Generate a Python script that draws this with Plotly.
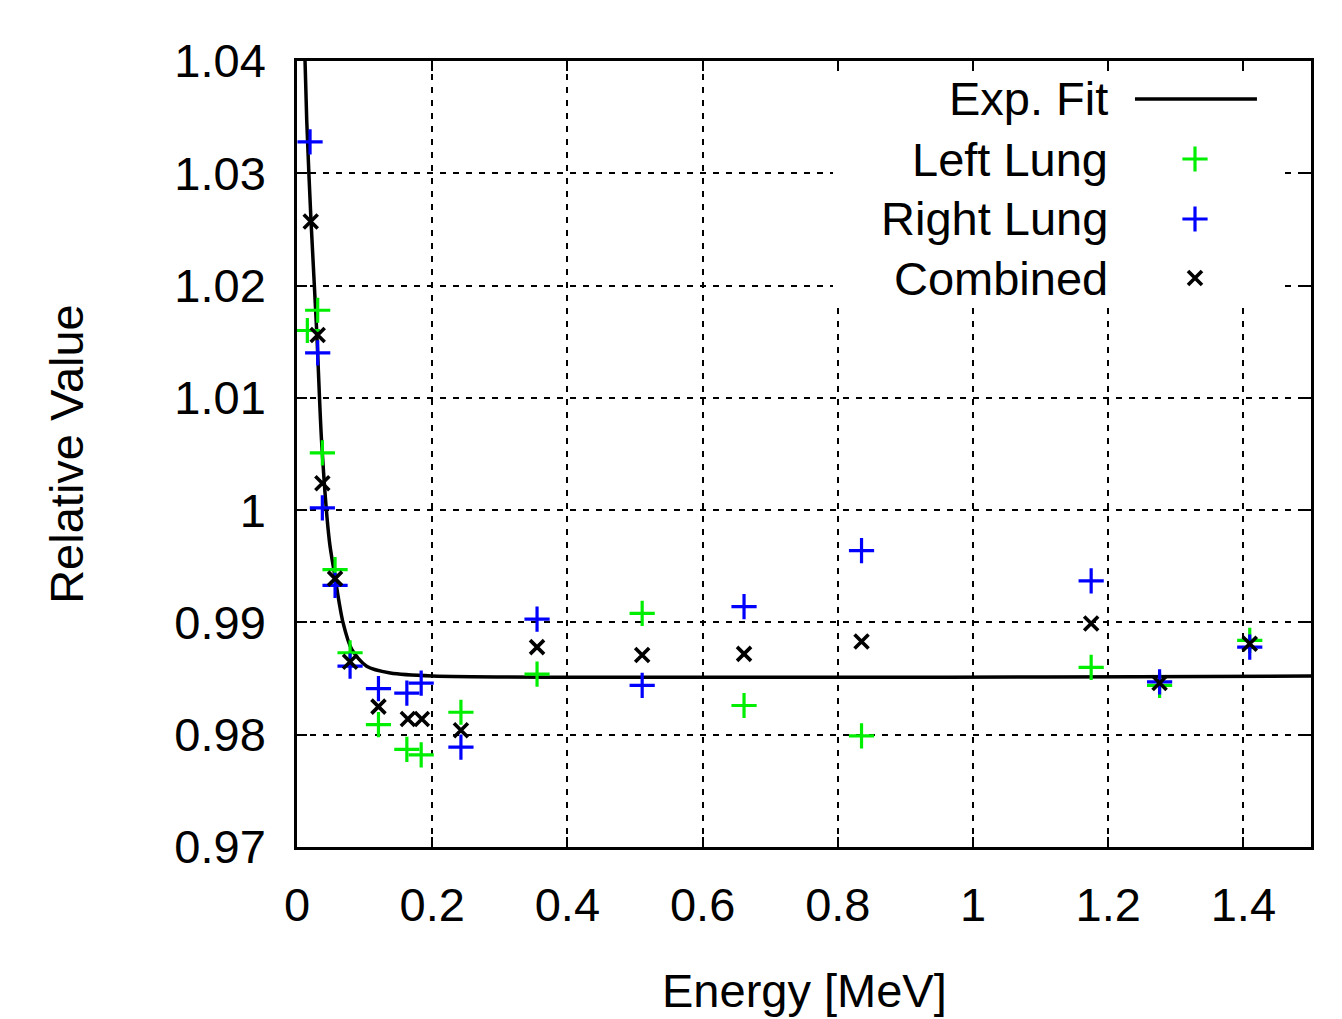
import plotly.graph_objects as go

# ---------------- data ----------------
left_x = [0.0153, 0.0306, 0.0375, 0.0563, 0.0785, 0.1205, 0.1625, 0.1837, 0.2425,
          0.3551, 0.5106, 0.6613, 0.8351, 1.1748, 1.2760, 1.4094]
left_y = [1.0160, 1.0178, 1.0051, 0.9947, 0.9873, 0.9809, 0.9787, 0.9782, 0.9820,
          0.9854, 0.9908, 0.9826, 0.9799, 0.9860, 0.9844, 0.9884]

right_x = [0.0193, 0.0306, 0.0375, 0.0563, 0.0785, 0.1205, 0.1625, 0.1837, 0.2425,
           0.3551, 0.5106, 0.6613, 0.8351, 1.1748, 1.2760, 1.4094]
right_y = [1.0328, 1.0140, 1.0002, 0.9933, 0.9861, 0.9841, 0.9837, 0.9846, 0.9789,
           0.9903, 0.9844, 0.9914, 0.9964, 0.9937, 0.9847, 0.9878]

comb_x = [0.0203, 0.0306, 0.0375, 0.0563, 0.0785, 0.1205, 0.1640, 0.1847, 0.2425,
          0.3551, 0.5106, 0.6613, 0.8351, 1.1748, 1.2760, 1.4094]
comb_y = [1.0257, 1.0156, 1.0024, 0.9939, 0.9865, 0.9825, 0.9814, 0.9814, 0.9804,
          0.9878, 0.9871, 0.9872, 0.9883, 0.9899, 0.9846, 0.9881]

fit_x = [0.0119, 0.0144, 0.0207, 0.0291, 0.0365, 0.0478, 0.0553, 0.0680, 0.0810,
         0.1030, 0.1380, 0.2000, 1.5000]
fit_y = [1.0400, 1.0347, 1.0258, 1.0160, 1.0060, 0.9973, 0.9944, 0.9900, 0.9876,
         0.9861, 0.9855, 0.98524, 0.98523]

x_ticks = [0, 0.2, 0.4, 0.6, 0.8, 1.0, 1.2, 1.4]
x_tick_labels = ["0", "0.2", "0.4", "0.6", "0.8", "1", "1.2", "1.4"]
y_ticks = [0.97, 0.98, 0.99, 1.00, 1.01, 1.02, 1.03, 1.04]
y_tick_labels = ["0.97", "0.98", "0.99", "1", "1.01", "1.02", "1.03", "1.04"]

series_names = ["Exp. Fit", "Left Lung", "Right Lung", "Combined"]
x_title = "Energy [MeV]"
y_title = "Relative Value"

# ---------------- styling ----------------
FONT = "Liberation Sans, Arial, Helvetica, sans-serif"
FS = 47
GREEN = "#00ee00"
BLUE = "#0000ff"
BLACK = "#000000"
CROSS_SIZE = 18
X_SIZE = 14

fig = go.Figure()

fig.add_trace(go.Scatter(x=fit_x, y=fit_y, mode="lines",
                         line=dict(color=BLACK, width=3.5, shape="spline", smoothing=0.8),
                         name=series_names[0], showlegend=False))
fig.add_trace(go.Scatter(x=left_x, y=left_y, mode="markers", name=series_names[1], showlegend=False,
                         marker=dict(symbol="cross-thin-open", size=CROSS_SIZE, color=GREEN,
                                     line=dict(color=GREEN, width=3.2))))
fig.add_trace(go.Scatter(x=right_x, y=right_y, mode="markers", name=series_names[2], showlegend=False,
                         marker=dict(symbol="cross-thin-open", size=CROSS_SIZE, color=BLUE,
                                     line=dict(color=BLUE, width=3.2))))
fig.add_trace(go.Scatter(x=comb_x, y=comb_y, mode="markers", name=series_names[3], showlegend=False,
                         marker=dict(symbol="x-thin-open", size=X_SIZE, color=BLACK,
                                     line=dict(color=BLACK, width=3.6))))

# ---------------- key (gnuplot style: text right-aligned, sample on the right) ----------------
key_box_x = [0.5286, 0.9724, 0.9724, 0.5286, 0.5286]
key_box_y = [0.6896, 0.6896, 0.997, 0.997, 0.6896]
fig.add_trace(go.Scatter(x=key_box_x, y=key_box_y, xaxis="x2", yaxis="y2", mode="lines",
                         fill="toself", fillcolor="white", line=dict(width=0, color="white"),
                         showlegend=False, hoverinfo="skip"))

key_text_x = 0.8018
key_rows_y = [0.9517, 0.8753, 0.7990, 0.7239]
key_sym_x = 0.8856
key_line_x = [0.8264, 0.9467]
key_colors = [GREEN, BLUE, BLACK]
key_symbols = ["cross-thin-open", "cross-thin-open", "x-thin-open"]
key_sizes = [CROSS_SIZE, CROSS_SIZE, X_SIZE]
key_widths = [3.2, 3.2, 3.6]

fig.add_trace(go.Scatter(x=key_line_x, y=[key_rows_y[0]] * 2, xaxis="x2", yaxis="y2", mode="lines",
                         line=dict(color=BLACK, width=3.5), showlegend=False, hoverinfo="skip"))
for i in range(3):
    fig.add_trace(go.Scatter(x=[key_sym_x], y=[key_rows_y[i + 1]], xaxis="x2", yaxis="y2", mode="markers",
                             showlegend=False, hoverinfo="skip",
                             marker=dict(symbol=key_symbols[i], size=key_sizes[i], color=key_colors[i],
                                         line=dict(color=key_colors[i], width=key_widths[i]))))

for i, name in enumerate(series_names):
    fig.add_annotation(x=key_text_x, y=key_rows_y[i], xref="paper", yref="paper", text=name,
                       showarrow=False, xanchor="right", yanchor="middle",
                       font=dict(family=FONT, size=FS, color=BLACK))

# axis titles
fig.add_annotation(x=0.5, y=-0.183, xref="paper", yref="paper", text=x_title, showarrow=False,
                   xanchor="center", yanchor="middle", font=dict(family=FONT, size=FS, color=BLACK))
fig.add_annotation(x=-0.2275, y=0.5006, xref="paper", yref="paper", text=y_title, showarrow=False,
                   textangle=-90, xanchor="center", yanchor="middle",
                   font=dict(family=FONT, size=FS, color=BLACK))

axis_common = dict(showline=True, linecolor=BLACK, linewidth=2.5, mirror="ticks", ticks="inside",
                   ticklen=10, tickwidth=2, tickcolor=BLACK, showgrid=True, gridcolor=BLACK,
                   gridwidth=2, griddash="6px,7px", zeroline=False,
                   tickfont=dict(family=FONT, size=FS, color=BLACK))

# page body has an 8px margin: shrink the figure so the plot lands where the reference has it
fig.update_layout(
    width=1334, height=1011,
    margin=dict(l=289, r=31, t=53, b=172),
    paper_bgcolor="white", plot_bgcolor="white",
    showlegend=False,
    xaxis=dict(range=[0, 1.5], tickvals=x_ticks, ticktext=x_tick_labels, ticklabelstandoff=15, **axis_common),
    yaxis=dict(range=[0.97, 1.04], tickvals=y_ticks, ticktext=y_tick_labels, ticklabelstandoff=19, **axis_common),
    xaxis2=dict(overlaying="x", range=[0, 1], visible=False),
    yaxis2=dict(overlaying="y", range=[0, 1], visible=False),
)

fig.write_html("out.html")
